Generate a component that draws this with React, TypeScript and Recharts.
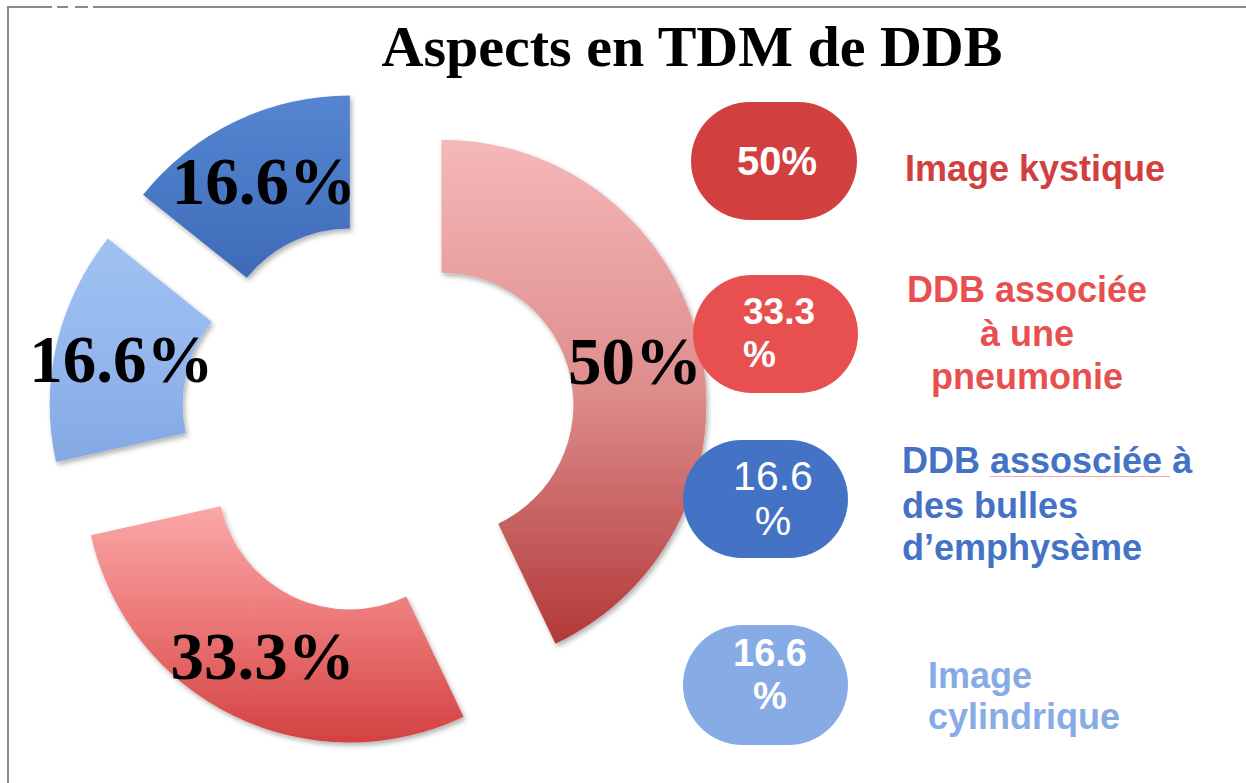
import { PieChart, Pie, Cell } from "recharts";

// slices, clockwise from 12 o'clock
const categories = [
  "Image kystique",
  "DDB associée à une pneumonie",
  "Image cylindrique",
  "DDB assosciée à des bulles d’emphysème",
];
const values = [50, 33.3, 16.6, 16.6];
const sliceLabels = ["50%", "33.3%", "16.6%", "16.6%"];

// legend (top to bottom), indexes into categories
const legendOrder = [0, 1, 3, 2];
const pillLines = [["50%"], ["33.3", "%"], ["16.6", "%"], ["16.6", "%"]];
const labelLines = [
  ["Image kystique"],
  ["DDB associée", "à une", "pneumonie"],
  ["Image", "cylindrique"],
  ["DDB assosciée à", "des bulles", "d’emphysème"],
];

const title = "Aspects en TDM de DDB";

const W = 1246;
const H = 783;
const CX = 378;
const CY = 419;
const INNER = 132;
const OUTER = 265;
const EXPLODE = 65;

const gradients = [
  ["#F5B8B8", "#DE8C8C", "#B23838"],
  ["#FBA8A8", "#EC7676", "#D34141"],
  ["#A0C2F2", "#94B7EE", "#84A8E3"],
  ["#5585D1", "#4A79C6", "#3E6AB6"],
];

const legendColors = ["#D23F3F", "#E85050", "#87ABE5", "#4472C4"];

// legend layout, one entry per legend row
const pillBoxes = [
  { x: 691, y: 102, w: 166, h: 118 },
  { x: 693, y: 275, w: 165, h: 118 },
  { x: 683, y: 440, w: 165, h: 118 },
  { x: 683, y: 625, w: 165, h: 120 },
];
const pillText = [
  { x: 777, anchor: "middle", ys: [175], size: 40, weight: 700 },
  { x: 743, anchor: "start", ys: [324, 367], size: 37, weight: 700 },
  { x: 773, anchor: "middle", ys: [490, 535], size: 41, weight: 400 },
  { x: 770, anchor: "middle", ys: [666, 709], size: 38, weight: 700 },
];
const labelText = [
  { x: 905, anchor: "start", ys: [181] },
  { x: 1027, anchor: "middle", ys: [302, 346, 389] },
  { x: 902, anchor: "start", ys: [473, 518, 560] },
  { x: 928, anchor: "start", ys: [688, 729] },
];

const total = values.reduce((a, b) => a + b, 0);
const data = categories.map((name, i) => ({ name, value: values[i] }));

function explodeOffset(i: number) {
  const before = values.slice(0, i).reduce((a, b) => a + b, 0);
  const mid = 90 - (360 * (before + values[i] / 2)) / total;
  const rad = (mid * Math.PI) / 180;
  return { dx: EXPLODE * Math.cos(rad), dy: -EXPLODE * Math.sin(rad) };
}

const SANS = "'Liberation Sans', Arial, sans-serif";
const SERIF = "'Liberation Serif', 'Times New Roman', serif";

function renderSliceLabel(i: number) {
  return (p: any) => {
    if (p.index !== i) return null;
    const r = (p.innerRadius + p.outerRadius) / 2;
    const rad = (-p.midAngle * Math.PI) / 180;
    const x = p.cx + r * Math.cos(rad);
    const y = p.cy + r * Math.sin(rad);
    return (
      <text
        x={x}
        y={y}
        dy="0.34em"
        textAnchor="middle"
        fontFamily={SERIF}
        fontWeight={700}
        fontSize={67}
        fill="#000"
      >
        {sliceLabels[i]}
      </text>
    );
  };
}

export default function App() {
  return (
    <div style={{ position: "absolute", left: 0, top: 0, width: W, height: H, background: "#fff" }}>
      <PieChart
        width={W}
        height={H}
        margin={{ top: 0, right: 0, bottom: 0, left: 0 }}
        style={{ position: "absolute", left: 0, top: 0 }}
      >
        <defs>
          {gradients.map((g, i) => (
            <linearGradient key={i} id={`slice${i}`} x1="0" y1="0" x2="0" y2="1">
              <stop offset="0%" stopColor={g[0]} />
              <stop offset="50%" stopColor={g[1]} />
              <stop offset="100%" stopColor={g[2]} />
            </linearGradient>
          ))}
          <filter id="shade" x="-10%" y="-10%" width="120%" height="120%">
            <feDropShadow dx="2" dy="3" stdDeviation="2.5" floodColor="#000" floodOpacity="0.3" />
          </filter>
        </defs>
        {values.map((_, i) => {
          const { dx, dy } = explodeOffset(i);
          return (
            <Pie
              key={i}
              data={data}
              dataKey="value"
              nameKey="name"
              cx={CX + dx}
              cy={CY + dy}
              innerRadius={INNER}
              outerRadius={OUTER}
              startAngle={90}
              endAngle={-270}
              stroke="none"
              labelLine={false}
              label={renderSliceLabel(i)}
              isAnimationActive={false}
            >
              {data.map((_, j) => (
                <Cell
                  key={j}
                  fill={j === i ? `url(#slice${j})` : "transparent"}
                  filter={j === i ? "url(#shade)" : undefined}
                />
              ))}
            </Pie>
          );
        })}
      </PieChart>

      <svg width={W} height={H} style={{ position: "absolute", left: 0, top: 0, pointerEvents: "none" }}>
        {/* frame */}
        <g stroke="#8a8a8a" strokeWidth={2}>
          <line x1={8} y1={7} x2={52} y2={7} />
          <line x1={57} y1={7} x2={68} y2={7} />
          <line x1={75} y1={7} x2={88} y2={7} />
          <line x1={93} y1={7} x2={W} y2={7} />
          <line x1={8} y1={6} x2={8} y2={H} />
        </g>
        <text x={692} y={66} textAnchor="middle" fontFamily={SERIF} fontWeight={700} fontSize={58} fill="#000">
          {title}
        </text>

        {legendOrder.map((c, row) => {
          const b = pillBoxes[row];
          const pt = pillText[row];
          const lt = labelText[row];
          return (
            <g key={c}>
              <rect x={b.x} y={b.y} width={b.w} height={b.h} rx={b.h / 2} ry={b.h / 2} fill={legendColors[c]} />
              {pillLines[c].map((s, k) => (
                <text
                  key={k}
                  x={pt.x}
                  y={pt.ys[k]}
                  textAnchor={pt.anchor as any}
                  fontFamily={SANS}
                  fontWeight={pt.weight}
                  fontSize={pt.size}
                  fill="#fff"
                >
                  {s}
                </text>
              ))}
              {labelLines[c].map((s, k) => (
                <text
                  key={k}
                  x={lt.x}
                  y={lt.ys[k]}
                  textAnchor={lt.anchor as any}
                  fontFamily={SANS}
                  fontWeight={700}
                  fontSize={36}
                  fill={legendColors[c]}
                >
                  {s}
                </text>
              ))}
            </g>
          );
        })}
        {/* spell-check underline under "assosciée" */}
        <line x1={990} y1={476.5} x2={1170} y2={476.5} stroke="#F0A8A8" strokeWidth={1} />
      </svg>
    </div>
  );
}
